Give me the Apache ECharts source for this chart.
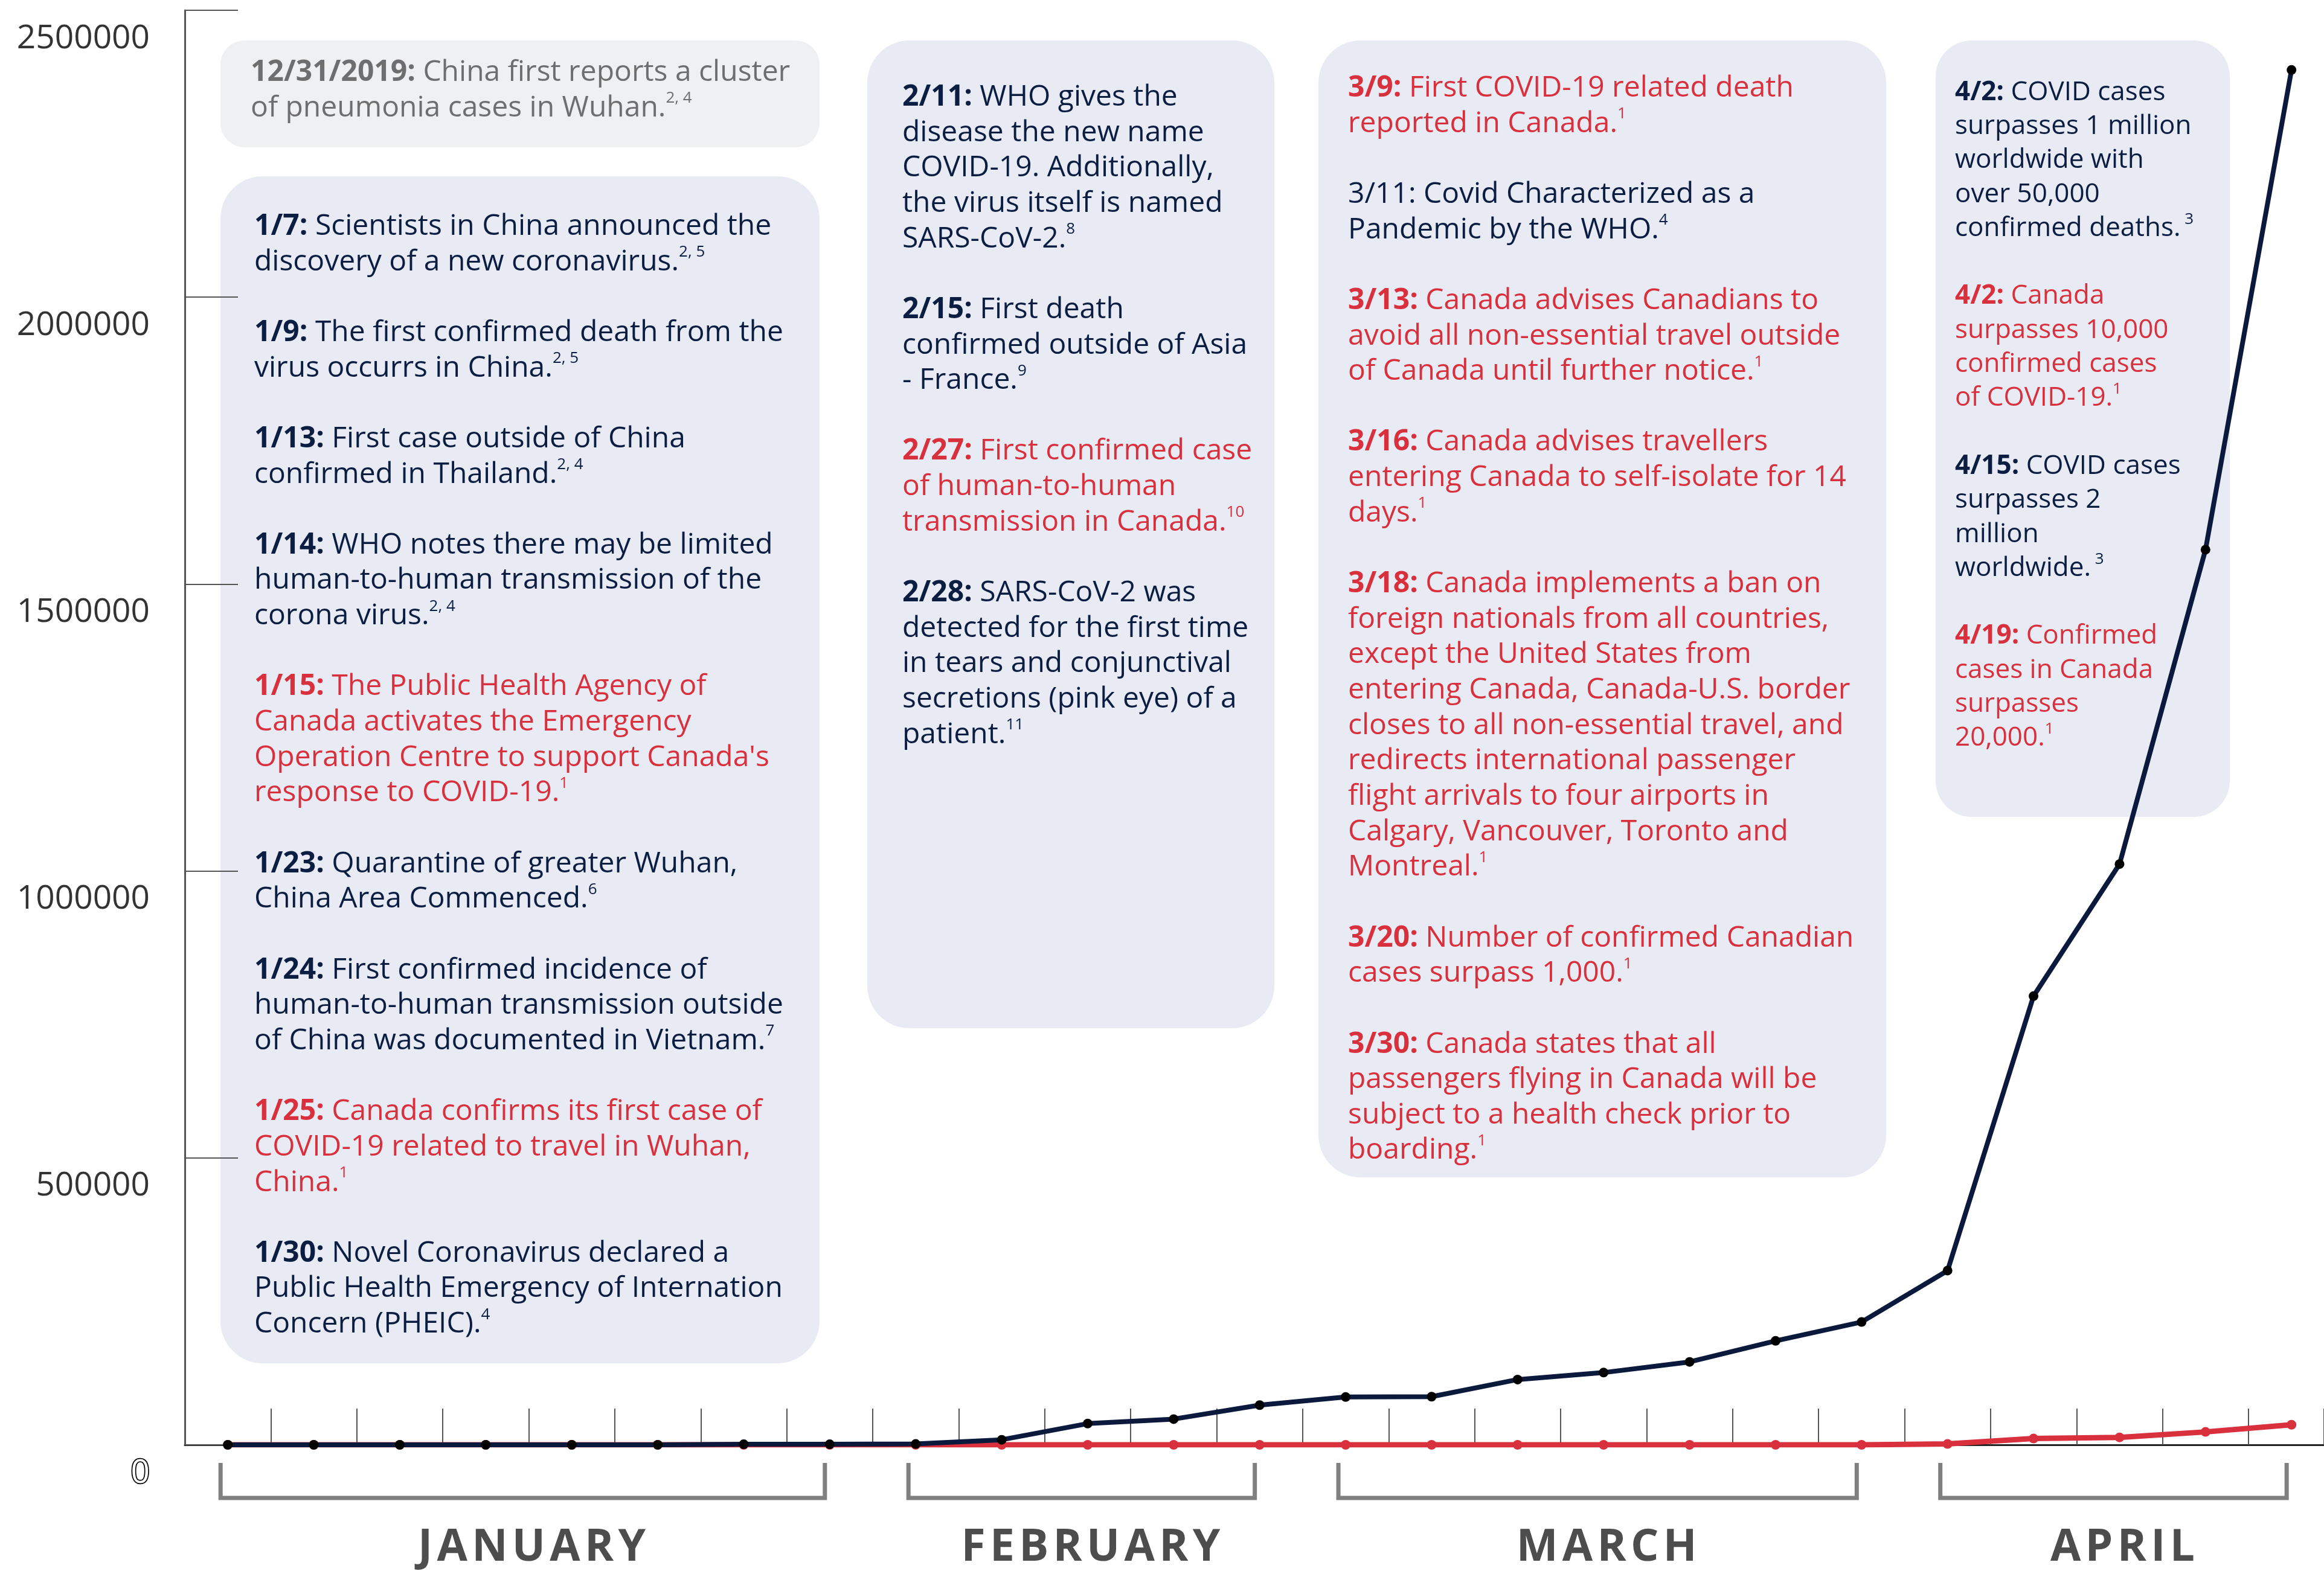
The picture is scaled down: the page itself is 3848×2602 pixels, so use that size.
<!DOCTYPE html>
<html>
<head>
<meta charset="utf-8">
<script src="https://cdn.jsdelivr.net/npm/echarts@6/dist/echarts.min.js"></script>
<style>
html, body { margin: 0; padding: 0; background: #fff; }
#main { width: 3848px; height: 2602px; }
</style>
</head>
<body>
<div id="main"></div>
<script>
// one point per timeline event
var dates = ['12/31', '1/7', '1/9', '1/13', '1/14', '1/15', '1/23', '1/24', '1/25', '1/30',
    '2/7', '2/11', '2/15', '2/27', '2/28', '3/9', '3/11', '3/13', '3/16', '3/18', '3/20',
    '3/30', '4/2', '4/15', '4/19'];
var worldCases = [0, 0, 0, 0, 0, 0, 1000, 1000, 1500, 8800, 37000, 44800, 69200, 83300, 83900,
    113700, 125900, 144500, 181200, 214000, 303600, 782000, 1012000, 1560000, 2396000];
var canadaCases = [0, 0, 0, 0, 0, 0, 0, 0, 0, 0, 0, 0, 0, 0, 0, 0, 0, 0, 0, 0,
    1500, 11000, 13000, 22500, 35000];
var yMax = 2500000, yStep = 500000;

// month brackets: first and last point index covered
var months = [
    { name: 'JANUARY', from: 0, to: 7 },
    { name: 'FEBRUARY', from: 8, to: 12 },
    { name: 'MARCH', from: 13, to: 19 },
    { name: 'APRIL', from: 20, to: 24 }
];

// notes: [tone, bold date, lines, reference]
var noteFirst = [
    ['g', '12/31/2019:', [' China first reports a cluster', 'of pneumonia cases in Wuhan.'], '2, 4']
];
var notesJan = [
    ['n', '1/7:', [' Scientists in China announced the', 'discovery of a new coronavirus.'], '2, 5'],
    ['n', '1/9:', [' The first confirmed death from the', 'virus occurrs in China.'], '2, 5'],
    ['n', '1/13:', [' First case outside of China', 'confirmed in Thailand.'], '2, 4'],
    ['n', '1/14:', [' WHO notes there may be limited', 'human-to-human transmission of the', 'corona virus.'], '2, 4'],
    ['r', '1/15:', [' The Public Health Agency of', 'Canada activates the Emergency', "Operation Centre to support Canada's", 'response to COVID-19.'], '1'],
    ['n', '1/23:', [' Quarantine of greater Wuhan,', 'China Area Commenced.'], '6'],
    ['n', '1/24:', [' First confirmed incidence of', 'human-to-human transmission outside', 'of China was documented in Vietnam.'], '7'],
    ['r', '1/25:', [' Canada confirms its first case of', 'COVID-19 related to travel in Wuhan,', 'China.'], '1'],
    ['n', '1/30:', [' Novel Coronavirus declared a', 'Public Health Emergency of Internation', 'Concern (PHEIC).'], '4']
];
var notesFeb = [
    ['n', '2/11:', [' WHO gives the', 'disease the new name', 'COVID-19. Additionally,', 'the virus itself is named', 'SARS-CoV-2.'], '8'],
    ['n', '2/15:', [' First death', 'confirmed outside of Asia', '- France.'], '9'],
    ['r', '2/27:', [' First confirmed case', 'of human-to-human', 'transmission in Canada.'], '10'],
    ['n', '2/28:', [' SARS-CoV-2 was', 'detected for the first time', 'in tears and conjunctival', 'secretions (pink eye) of a', 'patient.'], '11']
];
var notesMar = [
    ['r', '3/9:', [' First COVID-19 related death', 'reported in Canada.'], '1'],
    ['n', '', ['3/11: Covid Characterized as a', 'Pandemic by the WHO.'], '4'],
    ['r', '3/13:', [' Canada advises Canadians to', 'avoid all non-essential travel outside', 'of Canada until further notice.'], '1'],
    ['r', '3/16:', [' Canada advises travellers', 'entering Canada to self-isolate for 14', 'days.'], '1'],
    ['r', '3/18:', [' Canada implements a ban on', 'foreign nationals from all countries,', 'except the United States from',
        'entering Canada, Canada-U.S. border', 'closes to all non-essential travel, and', 'redirects international passenger',
        'flight arrivals to four airports in', 'Calgary, Vancouver, Toronto and', 'Montreal.'], '1'],
    ['r', '3/20:', [' Number of confirmed Canadian', 'cases surpass 1,000.'], '1'],
    ['r', '3/30:', [' Canada states that all', 'passengers flying in Canada will be', 'subject to a health check prior to', 'boarding.'], '1']
];
var notesApr = [
    ['n', '4/2:', [' COVID cases', 'surpasses 1 million', 'worldwide with', 'over 50,000', 'confirmed deaths.'], ' 3'],
    ['r', '4/2:', [' Canada', 'surpasses 10,000', 'confirmed cases', 'of COVID-19.'], '1'],
    ['n', '4/15:', [' COVID cases', 'surpasses 2', 'million', 'worldwide.'], ' 3'],
    ['r', '4/19:', [' Confirmed', 'cases in Canada', 'surpasses', '20,000.'], '1']
];

var NAVY = '#0c1d42', RED = '#d9303e', GREY = '#6e6e6e';
var FONT = '"Open Sans", "Noto Sans", sans-serif';

// points sit in the middle of each slot, slot edges carry the ticks
function toPoints(values) {
    return values.map(function (v, i) {
        return { name: dates[i], value: [i + 0.5, v] };
    });
}
var slotWidth = 142.375;
var xMax = (3848 - 306) / slotWidth;

var myChart = echarts.init(document.getElementById('main'));

var option = {
    backgroundColor: '#fff',
    animation: false,
    grid: { left: 306, right: 0, top: 17, bottom: 209 },
    xAxis: {
        type: 'value',
        min: 0,
        max: xMax,
        interval: 1,
        axisLine: { show: true, lineStyle: { color: '#222', width: 3 } },
        axisTick: { show: true, inside: true, length: 60, lineStyle: { color: '#555', width: 2 } },
        axisLabel: { show: false },
        splitLine: { show: false }
    },
    yAxis: {
        type: 'value',
        min: 0,
        max: yMax,
        interval: yStep,
        axisLine: { show: true, lineStyle: { color: '#555', width: 3 } },
        axisTick: { show: true, inside: true, length: 88, lineStyle: { color: '#555', width: 2 } },
        axisLabel: {
            margin: 58, fontSize: 55, color: '#333', fontFamily: FONT,
            verticalAlign: 'top', lineHeight: 94,
            formatter: function (v) { return v === 0 ? '{z|0}' : String(v); },
            rich: {
                // the zero label is drawn as an outline
                z: { fontSize: 55, fontFamily: FONT, lineHeight: 94, color: '#fff', textBorderColor: '#000', textBorderWidth: 3.5 }
            }
        },
        splitLine: { show: false }
    },
    series: [{
        name: 'Canada',
        type: 'line',
        data: toPoints(canadaCases),
        z: 3,
        symbol: 'circle',
        symbolSize: 16,
        showAllSymbol: true,
        itemStyle: { color: RED },
        lineStyle: { color: RED, width: 9 }
    }, {
        name: 'World',
        type: 'line',
        data: toPoints(worldCases),
        z: 4,
        symbol: 'circle',
        symbolSize: 16,
        showAllSymbol: true,
        itemStyle: { color: '#000' },
        lineStyle: { color: '#0b1a3c', width: 8 }
    }]
};
myChart.setOption(option);

// rich text styles for the note boxes
function richStyles(size, lh) {
    var s = {};
    var tones = { n: NAVY, r: RED, g: GREY };
    Object.keys(tones).forEach(function (k) {
        s[k] = { fill: tones[k], fontFamily: FONT, fontSize: size, lineHeight: lh };
        s[k + 'b'] = { fill: tones[k], fontFamily: FONT, fontSize: size, fontWeight: 'bold', lineHeight: lh };
        s[k + 's'] = { fill: tones[k], fontFamily: FONT, fontSize: 26, lineHeight: 40, verticalAlign: 'top' };
    });
    s.sp = { fontFamily: FONT, fontSize: size, lineHeight: lh };
    return s;
}

function richText(paras) {
    return paras.map(function (p) {
        var t = p[0];
        return p[2].map(function (line, i) {
            var s = '';
            if (i === 0 && p[1]) s += '{' + t + 'b|' + p[1] + '}';
            s += '{' + t + '|' + line + '}';
            if (i === p[2].length - 1) s += '{' + t + 's|' + p[3] + '}';
            return s;
        }).join('\n');
    }).join('\n{sp| }\n');
}

function noteBox(box, textX, textY, paras, fill, size, lh) {
    return [{
        type: 'rect',
        z: -10,
        shape: { x: box[0], y: box[1], width: box[2] - box[0], height: box[3] - box[1], r: box[4] },
        style: { fill: fill }
    }, {
        type: 'text',
        z: -5,
        x: textX,
        y: textY,
        style: {
            text: richText(paras),
            rich: richStyles(size, lh),
            fontFamily: FONT,
            fontSize: size,
            lineHeight: lh,
            align: 'left',
            verticalAlign: 'top'
        }
    }];
}

var graphics = [];
graphics = graphics.concat(noteBox([365, 67, 1357, 244, 40], 415, 91, noteFirst, '#eff0f2', 48, 58.6));
graphics = graphics.concat(noteBox([365, 292, 1357, 2258, 70], 421, 346, notesJan, '#e8ebf3', 48, 58.65));
graphics = graphics.concat(noteBox([1436, 67, 2110, 1703, 70], 1494, 132, notesFeb, '#e8ebf3', 48, 58.65));
graphics = graphics.concat(noteBox([2183, 67, 3123, 1950, 70], 2232, 117, notesMar, '#e8ebf3', 48, 58.65));
graphics = graphics.concat(noteBox([3205, 67, 3692, 1353, 60], 3237, 125, notesApr, '#e8ebf3', 44, 56.3));

// month brackets under the axis, placed from the x scale
months.forEach(function (m) {
    var x0 = myChart.convertToPixel({ xAxisIndex: 0 }, m.from + 0.5) - 12;
    var x1 = myChart.convertToPixel({ xAxisIndex: 0 }, m.to + 0.5) - 8;
    graphics.push({
        type: 'polyline',
        shape: { points: [[x0, 2423], [x0, 2481], [x1, 2481], [x1, 2423]] },
        style: { stroke: '#808080', lineWidth: 7, fill: null, lineJoin: 'miter' }
    });
    graphics.push({
        type: 'text',
        x: (x0 + x1) / 2 + 15,
        y: 2564,
        style: {
            text: m.name.split('').join('\u200a'),
            fill: '#4d4d4d',
            font: 'bold 73px ' + FONT,
            align: 'center',
            verticalAlign: 'middle'
        }
    });
});

myChart.setOption({ graphic: graphics });
</script>
</body>
</html>
